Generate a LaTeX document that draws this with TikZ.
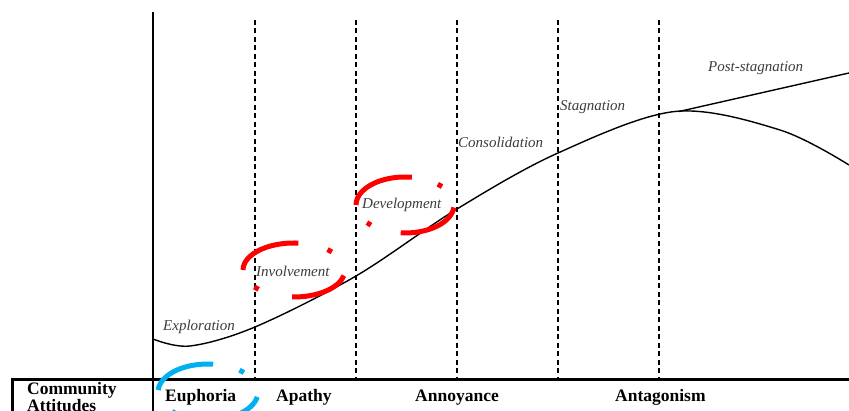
\documentclass[tikz,border=0pt]{standalone}
\usepackage{fontspec}
\setmainfont{Liberation Serif}
\definecolor{ringred}{RGB}{255,0,0}
\definecolor{ringblue}{RGB}{0,176,240}
\definecolor{labelgray}{RGB}{60,60,60}
\begin{document}
\begin{tikzpicture}[x=1pt,y=1pt,
  stagelbl/.style={font=\fontsize{15}{15}\selectfont\itshape, text=labelgray, inner sep=0pt, anchor=base west},
  attlbl/.style={font=\fontsize{17.5}{17}\selectfont\bfseries, inner sep=0pt, anchor=base west},
  divider/.style={line width=2.6pt, dash pattern=on 5pt off 3.5pt},
  ring/.style={line width=5pt, line cap=butt},
]
\useasboundingbox (0,0) rectangle (849,411);
\clip (0,0) rectangle (849,411);

% axis and table frame
\coordinate (axtop) at (153,399);
\coordinate (axbot) at (153,0);
\coordinate (tabbl) at (12,0);
\coordinate (tabtl) at (12,31);
\coordinate (tabtr) at (849,31);
\draw[line width=2.6pt] (axtop) -- (axbot);
\draw[line width=3pt] (tabbl) -- (tabtl) -- (tabtr);

% dashed stage dividers
\foreach \x/\n in {255/a,356/b,457/c,558/d,659/e}{
  \coordinate (div\n top) at (\x,391);
  \coordinate (div\n bot) at (\x,31);
  \draw[divider] (div\n top) -- (div\n bot);
}

% life-cycle curve
\draw[line width=1.4pt] plot[smooth, tension=0.55] coordinates
  {(153,72) (190,65) (255,84) (356,135) (457,202) (558,258) (675,299.5) (780,281) (849,246)};
\coordinate (pstart) at (679,299.5);
\coordinate (pend) at (849,338);
\draw[line width=1.4pt] (pstart) -- (pend);

% stage labels
\node[stagelbl] (explo) at (163,80) {Exploration};
\node[stagelbl] (invol) at (256,134) {Involvement};
\node[stagelbl] (devel) at (362,202) {Development};
\node[stagelbl] (conso) at (458,263) {Consolidation};
\node[stagelbl] (stagn) at (560,300) {Stagnation};
\node[stagelbl] (posts) at (708,339) {Post-stagnation};

% attitudes row
\node[attlbl] (comm) at (27,16) {Community};
\node[attlbl] (attit) at (27,-1) {Attitudes};
\node[attlbl] (euph) at (165,9) {Euphoria};
\node[attlbl] (apat) at (276,9) {Apathy};
\node[attlbl] (anno) at (415,9) {Annoyance};
\node[attlbl] (anta) at (615,9) {Antagonism};

% red dash-dot ring around Involvement
\draw[ring, ringred] (294,141) ++(180:51 and 27) arc[start angle=180, end angle=85, x radius=51, y radius=27];
\draw[ring, ringred] (294,141) ++(49:51 and 27) arc[start angle=49, end angle=42, x radius=51, y radius=27];
\draw[ring, ringred] (294,141) ++(-12:51 and 27) arc[start angle=-12, end angle=-92, x radius=51, y radius=27];
\draw[ring, ringred] (294,141) ++(226:51 and 27) arc[start angle=226, end angle=219, x radius=51, y radius=27];

% red dash-dot ring around Development
\draw[ring, ringred] (405,206) ++(180:49 and 28) arc[start angle=180, end angle=82, x radius=49, y radius=28];
\draw[ring, ringred] (405,206) ++(48:49 and 28) arc[start angle=48, end angle=41, x radius=49, y radius=28];
\draw[ring, ringred] (405,206) ++(-5:49 and 28) arc[start angle=-5, end angle=-95, x radius=49, y radius=28];
\draw[ring, ringred] (405,206) ++(226:49 and 28) arc[start angle=226, end angle=219, x radius=49, y radius=28];

% blue dash-dot ring around Euphoria
\draw[ring, ringblue] (208,19) ++(176:50 and 28) arc[start angle=176, end angle=84, x radius=50, y radius=28];
\draw[ring, ringblue] (208,19) ++(51:50 and 28) arc[start angle=51, end angle=44, x radius=50, y radius=28];
\draw[ring, ringblue] (208,19) ++(-10:50 and 28) arc[start angle=-10, end angle=-95, x radius=50, y radius=28];
\draw[ring, ringblue] (208,19) ++(231:50 and 28) arc[start angle=231, end angle=224, x radius=50, y radius=28];
\end{tikzpicture}
\end{document}
